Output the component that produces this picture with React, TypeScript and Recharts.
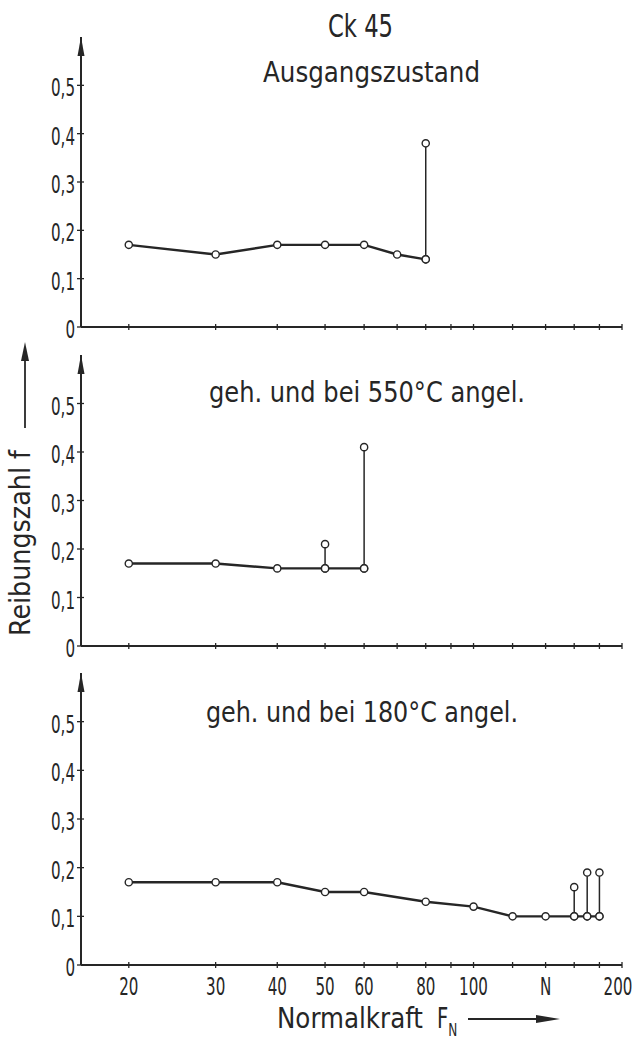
import React from 'react';
import { LineChart, Line, XAxis, YAxis, ReferenceDot } from 'recharts';

const FONT = "'Liberation Sans Narrow', 'DejaVu Sans Condensed', 'Liberation Sans', sans-serif";
const INK = '#262626';

// x axis: Normalkraft F_N in N (log scale)
const xTicks = [20, 30, 40, 50, 60, 70, 80, 90, 100, 120, 140, 160, 180, 200];
const xTickLabels: Record<number, string> = {
  20: '20', 30: '30', 40: '40', 50: '50', 60: '60', 80: '80', 100: '100', 140: 'N', 200: '200',
};
const yTicks = [0, 0.1, 0.2, 0.3, 0.4, 0.5];

// Ck 45 Ausgangszustand
const loadA = [20, 30, 40, 50, 60, 70, 80];
const fA = [0.17, 0.15, 0.17, 0.17, 0.17, 0.15, 0.14];
const spikeLoadA = [80];
const spikeFA = [0.38];

// geh. und bei 550°C angel.
const loadB = [20, 30, 40, 50, 60];
const fB = [0.17, 0.17, 0.16, 0.16, 0.16];
const spikeLoadB = [50, 60];
const spikeFB = [0.21, 0.41];

// geh. und bei 180°C angel.
const loadC = [20, 30, 40, 50, 60, 80, 100, 120, 140, 160, 170, 180];
const fC = [0.17, 0.17, 0.17, 0.15, 0.15, 0.13, 0.12, 0.1, 0.1, 0.1, 0.1, 0.1];
const spikeLoadC = [160, 170, 180];
const spikeFC = [0.16, 0.19, 0.19];

// narrow lettering: squeeze the glyphs horizontally
const SQ = 0.7;

function XTick({ x, y, payload, labels }: any) {
  const axisY = y - 8;
  const txt = labels ? xTickLabels[payload.value] || '' : '';
  // last label sits a little inside the axis end
  const shift = payload.value === 200 ? -4 : 0;
  return (
    <g>
      <line x1={x} x2={x} y1={axisY - 3} y2={axisY + 3} stroke={INK} strokeWidth={1.3} />
      {txt && (
        <text
          transform={`translate(${x + shift},${axisY + 30}) scale(${SQ},1)`}
          textAnchor="middle"
          fontFamily={FONT}
          fontSize={24}
          fill={INK}
        >
          {txt}
        </text>
      )}
    </g>
  );
}

function YTick({ x, y, payload }: any) {
  const axisX = x + 6;
  const v = payload.value;
  const txt = v === 0 ? '0' : v.toFixed(1).replace('.', ',');
  return (
    <g>
      <line x1={axisX - 4} x2={axisX + 3} y1={y} y2={y} stroke={INK} strokeWidth={1.3} />
      <text
        transform={`translate(${x},${y + 11}) scale(${SQ},1)`}
        textAnchor="end"
        fontFamily={FONT}
        fontSize={24}
        fill={INK}
      >
        {txt}
      </text>
    </g>
  );
}

const arrowUp = (p: any) => (
  <path d={`M${p.cx},${p.cy} l-3.5,19 l7,0 z`} fill={INK} />
);

function Panel({ top, marginTop, plotH, labels, loads, f, spikeLoads, spikeF }: any) {
  const main = loads.map((x: number, i: number) => ({ x, f: f[i] }));
  const stems = spikeLoads.map((x: number, i: number) => [
    { x, f: f[loads.indexOf(x)] },
    { x, f: spikeF[i] },
  ]);
  const xAxisH = labels ? 46 : 20;
  const height = marginTop + plotH + xAxisH;
  const dot = { r: 3.6, fill: '#fff', stroke: INK, strokeWidth: 1.4 };
  return (
    <div style={{ position: 'absolute', left: 0, top }}>
      <LineChart width={634} height={height} margin={{ top: marginTop, right: 12, bottom: 0, left: 0 }}>
        <XAxis
          dataKey="x"
          type="number"
          scale="log"
          domain={[16, 200]}
          ticks={xTicks}
          allowDataOverflow
          interval={0}
          height={xAxisH}
          stroke={INK}
          strokeWidth={2}
          tickSize={4}
          tickMargin={4}
          tickLine={false}
          tick={<XTick labels={labels} />}
        />
        <YAxis
          type="number"
          domain={[0, 0.6]}
          ticks={yTicks}
          allowDataOverflow
          interval={0}
          width={81}
          stroke={INK}
          strokeWidth={2}
          tickSize={4}
          tickMargin={2}
          tickLine={false}
          tick={<YTick />}
        />
        <ReferenceDot x={16} y={0.6} ifOverflow="visible" shape={arrowUp} />
        {stems.map((s: any, i: number) => (
          <Line
            key={i}
            data={s}
            dataKey="f"
            type="linear"
            stroke={INK}
            strokeWidth={1.5}
            dot={dot}
            isAnimationActive={false}
          />
        ))}
        <Line
          data={main}
          dataKey="f"
          type="linear"
          stroke={INK}
          strokeWidth={2.4}
          dot={dot}
          isAnimationActive={false}
        />
      </LineChart>
    </div>
  );
}

export default function App() {
  return (
    <div
      style={{
        position: 'absolute',
        left: 0,
        top: 0,
        width: 634,
        height: 1041,
        background: '#fff',
        overflow: 'hidden',
      }}
    >
      <Panel top={0} marginTop={37} plotH={290} labels={false} loads={loadA} f={fA} spikeLoads={spikeLoadA} spikeF={spikeFA} />
      <Panel top={337} marginTop={18} plotH={291} labels={false} loads={loadB} f={fB} spikeLoads={spikeLoadB} spikeF={spikeFB} />
      <Panel top={656} marginTop={17} plotH={292} labels={true} loads={loadC} f={fC} spikeLoads={spikeLoadC} spikeF={spikeFC} />
      <svg width={634} height={1041} style={{ position: 'absolute', left: 0, top: 0, pointerEvents: 'none' }}>
        <g fontFamily={FONT} fill={INK}>
          <text x={328} y={37} fontSize={32} textLength={65} lengthAdjust="spacingAndGlyphs">Ck 45</text>
          <text x={263} y={82} fontSize={29} textLength={217} lengthAdjust="spacingAndGlyphs">Ausgangszustand</text>
          <text x={209} y={402} fontSize={29} textLength={316} lengthAdjust="spacingAndGlyphs">geh. und bei 550°C angel.</text>
          <text x={206} y={722} fontSize={29} textLength={312} lengthAdjust="spacingAndGlyphs">geh. und bei 180°C angel.</text>
          <text
            x={30}
            y={636}
            fontSize={28}
            textLength={186}
            lengthAdjust="spacingAndGlyphs"
            transform="rotate(-90 30 636)"
          >
            Reibungszahl f
          </text>
          <text x={277} y={1028} fontSize={29} textLength={146} lengthAdjust="spacingAndGlyphs">Normalkraft</text>
          <text transform="translate(437,1028) scale(0.75,1)" fontSize={29}>
            F<tspan fontSize={18} dy={8}>N</tspan>
          </text>
        </g>
        <line x1={468} x2={540} y1={1019} y2={1019} stroke={INK} strokeWidth={1.8} />
        <path d="M560,1019 l-24,-4 l0,8 z" fill={INK} />
        <line x1={25} x2={25} y1={428} y2={358} stroke={INK} strokeWidth={1.8} />
        <path d="M25,342 l-4,19 l8,0 z" fill={INK} />
      </svg>
    </div>
  );
}
